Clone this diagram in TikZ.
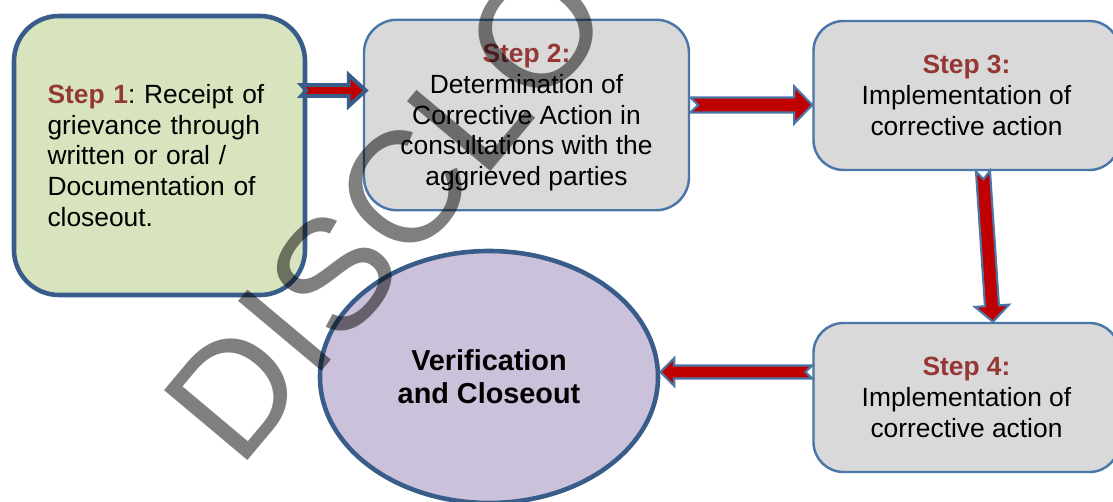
\documentclass[tikz,border=0pt]{standalone}
\usepackage{fontspec}
\setmainfont{Liberation Sans}
\newfontfamily\wmfont{Liberation Sans}
\usepackage{pgf,tikz}
\usetikzlibrary{arrows,calc,shapes.geometric}
\definecolor{stepgreen}{HTML}{D7E4BD}
\definecolor{stepgrey}{HTML}{D9D9D9}
\definecolor{steplilac}{HTML}{CCC1DA}
\definecolor{darkblue}{HTML}{385D8A}
\definecolor{lineblue}{HTML}{4A76A8}
\definecolor{arrowred}{HTML}{C00000}
\definecolor{stepred}{HTML}{953735}
\newcommand{\blockarrow}[7][]{%
\draw[#1] let \p1=(#2), \p2=(#3), \n1={atan2(\y2-\y1,\x2-\x1)}, \n2={veclen(\x2-\x1,\y2-\y1)} in
[shift={(\p1)},rotate=\n1] (0,-#4) -- (\n2-#6,-#4) -- (\n2-#6,-#5) -- (\n2,0) -- (\n2-#6,#5) -- (\n2-#6,#4) -- (0,#4) -- (#7,0) -- cycle;}

\begin{document}
\begin{tikzpicture}[line cap=round,line join=round,x=1.0cm,y=1.0cm,
  boxtext/.style={font=\fontsize{7.5}{8.75}\selectfont\frenchspacing},
  greenbox/.style={boxtext,draw=darkblue,fill=stepgreen,line width=1.3pt,rounded corners=0.45cm,minimum width=2.91cm,minimum height=2.79cm},
  greybox/.style={boxtext,draw=lineblue,fill=stepgrey,line width=0.7pt,rounded corners=0.3cm,align=center},
  thinarrow/.style={draw=lineblue,fill=arrowred,line width=0.6pt,line join=miter},
  thickarrow/.style={draw=darkblue,fill=arrowred,line width=1.1pt,line join=miter}]
\useasboundingbox (0,0) rectangle (11.13,5.02);
\clip (0,0) rectangle (11.13,5.02);
\node[greenbox,text width=2.24cm,align=left] (s1) at (1.595,3.465) {\textcolor{stepred}{\textbf{Step 1}}: Receipt of\\grievance through\\written or oral /\\Documentation of\\closeout.};
\node[greybox,minimum width=3.25cm,minimum height=1.905cm,rounded corners=0.33cm,text depth=0pt] (s2) at (5.265,3.87) {\textcolor{stepred}{\textbf{Step 2:}}\\Determination of\\Corrective Action in\\consultations with the\\aggrieved parties};
\node[greybox,minimum width=3.06cm,minimum height=1.49cm] (s3) at (9.665,4.065) {\textcolor{stepred}{\textbf{Step 3:}}\\Implementation of\\corrective action};
\node[greybox,minimum width=3.06cm,minimum height=1.49cm] (s4) at (9.665,1.045) {\textcolor{stepred}{\textbf{Step 4:}}\\Implementation of\\corrective action};
\node[ellipse,draw=darkblue,fill=steplilac,line width=1.3pt,minimum width=3.38cm,minimum height=2.52cm,align=center,font=\fontsize{8.2}{9.4}\selectfont\bfseries] (ver) at (4.89,1.25) {Verification\\and Closeout};
\blockarrow[thickarrow]{$(s1.east)+(-0.06,0.65)$}{$(s2.west)+(0.03,0.245)$}{0.055cm}{0.155cm}{0.17cm}{0.05cm}
\blockarrow[thinarrow]{$(s2.east)+(0,0.10)$}{$(s3.west)+(0,-0.095)$}{0.075cm}{0.185cm}{0.18cm}{0.08cm}
\blockarrow[thinarrow]{$(s3.south)+(0.165,0)$}{$(s4.north)+(0.265,0)$}{0.07cm}{0.17cm}{0.16cm}{0.08cm}
\blockarrow[thinarrow]{$(s4.west)+(0,0.255)$}{$(ver.east)+(0,0.05)$}{0.065cm}{0.14cm}{0.14cm}{0.07cm}
\node[rotate=50,anchor=base west,inner sep=0pt,text=black,text opacity=0.5,font=\wmfont\fontsize{45}{54}\selectfont] (wmark) at (2.39,0.31) {DISCLO};
\end{tikzpicture}
\end{document}
